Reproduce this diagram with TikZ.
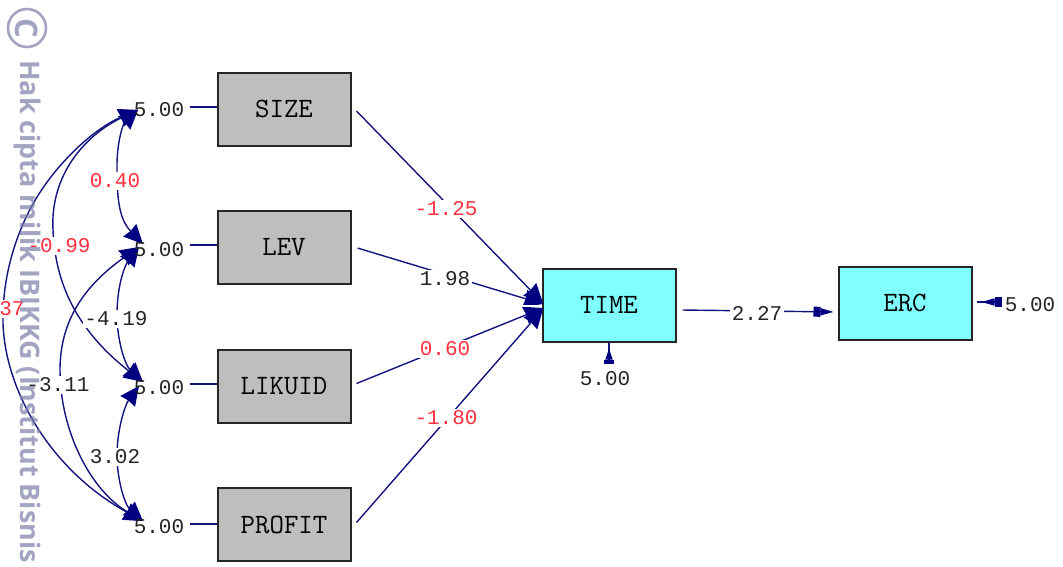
\documentclass[tikz,border=0pt]{standalone}
\usepackage{fontspec}
\newfontfamily\lblfont{Liberation Mono}
\newfontfamily\wmfont{Open Sans}
\usetikzlibrary{arrows.meta,calc}
\definecolor{pathblue}{HTML}{14147F}
\definecolor{headblue}{HTML}{000080}
\definecolor{boxgrey}{HTML}{BEBEBE}
\definecolor{boxcyan}{HTML}{7FFFFF}
\definecolor{redlbl}{HTML}{FF3040}
\definecolor{darklbl}{HTML}{252525}
\definecolor{wmgrey}{HTML}{7F7FAA}
\tikzset{
  obsbox/.style={draw=black!85,line width=2pt,minimum width=133pt,minimum height=73pt,inner sep=0pt,font=\ttfamily\fontsize{28}{28}\selectfont,text=black},
  exo/.style={obsbox,fill=boxgrey},
  endo/.style={obsbox,fill=boxcyan},
  val/.style={inner sep=1.5pt,font=\lblfont\fontsize{21}{21}\selectfont,text=darklbl},
  gapval/.style={val,fill=white},
  redval/.style={gapval,text=redlbl},
  link/.style={draw=pathblue,line width=1.4pt},
  fathead/.tip={Stealth[length=19pt,width=18pt,inset=1pt,color=headblue]},
  bigtip/.style={-{fathead}},
  twotip/.style={{fathead}-{fathead}},
  blockhead/.tip={Rectangle[length=7pt,width=10pt,color=headblue]Triangle[length=13pt,width=7pt,color=headblue]},
  shorthead/.tip={Rectangle[length=4pt,width=10pt,color=headblue]Triangle[length=11pt,width=7pt,color=headblue]},
  wmtext/.style={text=wmgrey,font=\wmfont\bfseries\fontsize{26.9}{26.9}\selectfont,inner sep=0pt}
}
\begin{document}
\begin{tikzpicture}[x=1pt,y=-1pt]
\useasboundingbox (0,0) rectangle (1063,566);
\node[exo] (size) at (284,109) {SIZE};
\node[exo] (lev) at (284,247) {LEV};
\node[exo] (likuid) at (284,386.5) {LIKUID};
\node[exo] (profit) at (284,524.5) {PROFIT};
\node[endo] (time) at (609,305) {TIME};
\node[endo] (erc) at (905,303) {ERC};
\coordinate (v1) at (138,110);
\coordinate (v2a) at (143,244);
\coordinate (v2b) at (139,247);
\coordinate (v3a) at (143,382);
\coordinate (v3b) at (139,386);
\coordinate (v4) at (143,521);
\coordinate (l1) at (190,107);
\coordinate (l2) at (190,245);
\coordinate (l3) at (190,384);
\coordinate (l4) at (190,524);
% covariance arcs
\draw[link,twotip] (v1) .. controls (122,125) and (117,145) .. (117,165) .. controls (117,195) and (118,218) .. (v2a);
\draw[link,twotip] (v1) .. controls (85,135) and (50,175) .. (53,230) .. controls (55,275) and (70,325) .. (v3a);
\draw[link,twotip] (v1) .. controls (95,128) and (60,160) .. (37,197) .. controls (20,225) and (2,270) .. (3,323) .. controls (5,390) and (50,470) .. (v4);
\draw[link,twotip] (v2b) .. controls (85,285) and (60,320) .. (60,370) .. controls (60,430) and (90,490) .. (v4);
\draw[link,twotip] (v2b) .. controls (125,265) and (117,285) .. (117,315) .. controls (117,340) and (125,365) .. (v3a);
\draw[link,twotip] (v3b) .. controls (125,405) and (117,430) .. (117,455) .. controls (117,480) and (125,505) .. (v4);
% stubs to the exogenous boxes
\draw[link] (l1) -- (l1 -| size.west);
\draw[link] (l2) -- (l2 -| lev.west);
\draw[link] (l3) -- (l3 -| likuid.west);
\draw[link] (l4) -- (l4 -| profit.west);
% paths into TIME
\coordinate (t1) at (543,303);
\coordinate (t2) at (543,304);
\coordinate (t3) at (543,308);
\coordinate (t4) at (543,309);
\draw[link,bigtip] ($(size.east)+(5,2)$) -- (t1);
\draw[link,bigtip] ($(lev.east)+(6,1)$) -- (t2);
\draw[link,bigtip] ($(likuid.east)+(5,-3)$) -- (t3);
\draw[link,bigtip] ($(profit.east)+(5,-2)$) -- (t4);
\draw[white,line width=1.4pt] (520,306) -- (541,306);
% TIME to ERC and error terms
\coordinate (terr) at (609,363);
\coordinate (eerr) at (1000,302);
\draw[link,-{blockhead},shorten >=4pt] ($(time.east)+(6,5)$) -- ($(erc.west)+(0,9)$);
\draw[link] (time.south -| terr) -- (terr);
\draw[link,{shorthead}-,shorten <=6pt] (time.south -| terr) -- (terr);
\draw[link] ($(erc.east |- eerr)+(4,0)$) -- (eerr);
\draw[link,{blockhead}-,shorten <=5pt] ($(erc.east |- eerr)+(4,0)$) -- (eerr);
% values
\node[redval] (n1) at (115,181) {0.40};
\node[redval] (n2) at (59,246) {-0.99};
\node[redval] (n3) at (12,309) {37};
\node[gapval] (n4) at (116,319) {-4.19};
\node[gapval] (n5) at (58,385) {-3.11};
\node[gapval] (n6) at (115,457) {3.02};
\node[redval] (b1) at (446,209) {-1.25};
\node[gapval] (b2) at (445,279) {1.98};
\node[redval] (b3) at (445,349) {0.60};
\node[redval] (b4) at (446,418) {-1.80};
\node[gapval] (g1) at (757,313) {2.27};
\node[val] (e1) at (159,110) {5.00};
\node[val] (e2) at (159,250) {5.00};
\node[val] (e3) at (159,388) {5.00};
\node[val] (e4) at (159,527) {5.00};
\node[val] (e5) at (605,379) {5.00};
\node[val] (e6) at (1030,305) {5.00};
% watermark
\begin{scope}[opacity=.72]
\node[circle,draw=wmgrey,line width=2.6pt,minimum size=38pt,inner sep=0pt,rotate=-90,text=wmgrey,font=\wmfont\bfseries\fontsize{31}{31}\selectfont] (cmark) at (27,28) {C};
\node[wmtext,rotate=-90,anchor=west] (wmark) at (27,60) {Hak cipta milik IBIKKG (Institut Bisnis};
\end{scope}
\end{tikzpicture}
\end{document}
